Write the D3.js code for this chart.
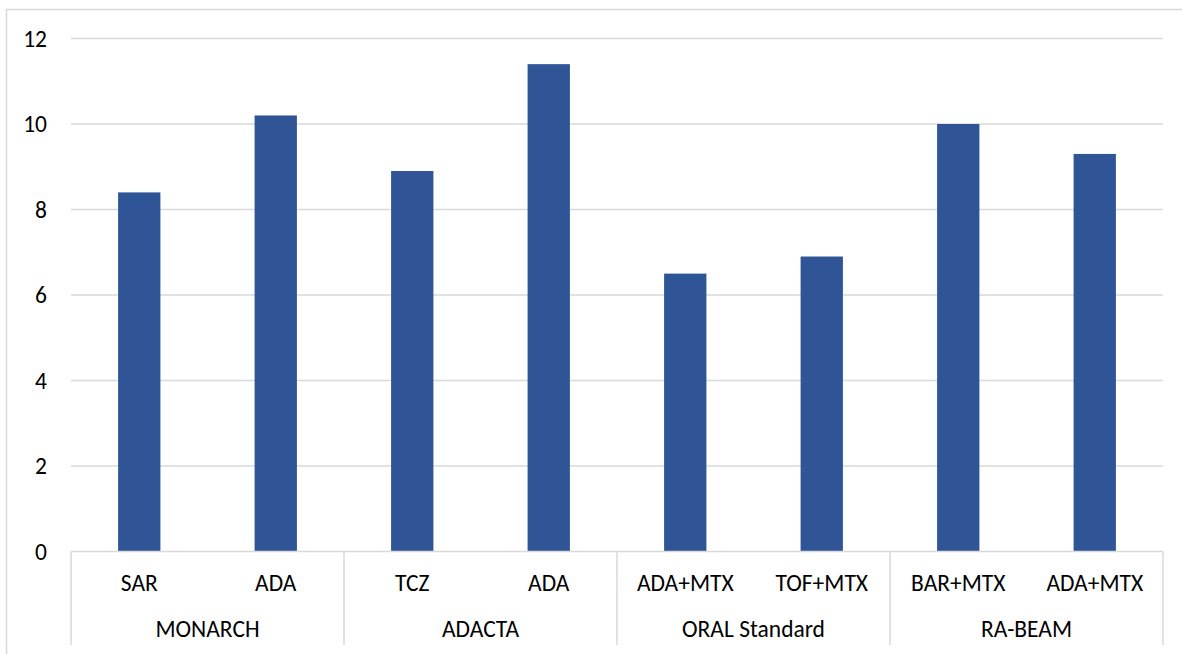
<!DOCTYPE html>
<html><head><meta charset="utf-8">
<script src="https://cdn.jsdelivr.net/npm/d3@7"></script>
<style>body{margin:0;background:#fff}svg{display:block}text{font-family:Carlito,Lato,"Liberation Sans",sans-serif;fill:#000}</style>
</head><body>
<script>
const groups = ["MONARCH","ADACTA","ORAL Standard","RA-BEAM"];
const categories = ["SAR","ADA","TCZ","ADA","ADA+MTX","TOF+MTX","BAR+MTX","ADA+MTX"];
const categoryGroup = [0,0,1,1,2,2,3,3];
const values = [8.4,10.2,8.9,11.4,6.5,6.9,10.0,9.3];
const yTicks = [0,2,4,6,8,10,12];

(function(){
const W=1182,H=654,FS=23.5;
const svg=d3.select("body").append("svg").attr("width",W).attr("height",H);
const grey="#d9d9d9";
svg.append("rect").attr("x",6.5).attr("y",9.5).attr("width",1200).attr("height",700)
  .attr("fill","none").attr("stroke",grey).attr("stroke-width",1.5);

const pL=71,pR=1163,pT=38.5,pB=551.5;
const y=d3.scaleLinear().domain([0,12]).range([pB,pT]);
const idx=d3.range(categories.length);
const x=d3.scaleBand().domain(idx).range([pL,pR]).paddingInner(0.69).paddingOuter(0.345);

svg.append("g").selectAll("line").data(yTicks.filter(d=>d>0)).join("line")
  .attr("x1",pL).attr("x2",pR).attr("y1",d=>y(d)).attr("y2",d=>y(d))
  .attr("stroke",grey).attr("stroke-width",1.5);

const yAxis=svg.append("g").attr("transform",`translate(${pL},0)`)
  .call(d3.axisLeft(y).tickValues(yTicks).tickSize(0).tickPadding(24));
yAxis.select(".domain").remove();
yAxis.selectAll("text").attr("font-size",FS).style("font-family","Carlito,Lato,sans-serif").attr("fill","#000");

svg.append("g").selectAll("rect").data(values).join("rect")
  .attr("x",(d,i)=>x(i)).attr("width",x.bandwidth())
  .attr("y",d=>y(d)).attr("height",d=>pB-y(d))
  .attr("fill","#2f5597");

svg.append("line").attr("x1",pL).attr("x2",pR).attr("y1",pB).attr("y2",pB)
  .attr("stroke",grey).attr("stroke-width",1.5);
const gx=d3.scaleBand().domain(d3.range(groups.length)).range([pL,pR]);
const seps=d3.range(groups.length+1).map(i=>pL+i*gx.bandwidth());
svg.append("g").selectAll("line").data(seps).join("line")
  .attr("x1",d=>d).attr("x2",d=>d).attr("y1",pB).attr("y2",645)
  .attr("stroke",grey).attr("stroke-width",1.5);

const xAxis=svg.append("g").attr("transform",`translate(0,${pB})`)
  .call(d3.axisBottom(x).tickFormat(i=>categories[i]).tickSize(0).tickPadding(0));
xAxis.select(".domain").remove();
xAxis.selectAll("text").attr("font-size",FS).attr("y",591-pB).attr("dy",null)
  .style("font-family","Carlito,Lato,sans-serif").attr("fill","#000");

svg.append("g").selectAll("text").data(groups).join("text")
  .attr("x",(d,i)=>gx(i)+gx.bandwidth()/2).attr("y",637)
  .attr("text-anchor","middle").attr("font-size",FS).text(d=>d);
})();
</script>
</body></html>
